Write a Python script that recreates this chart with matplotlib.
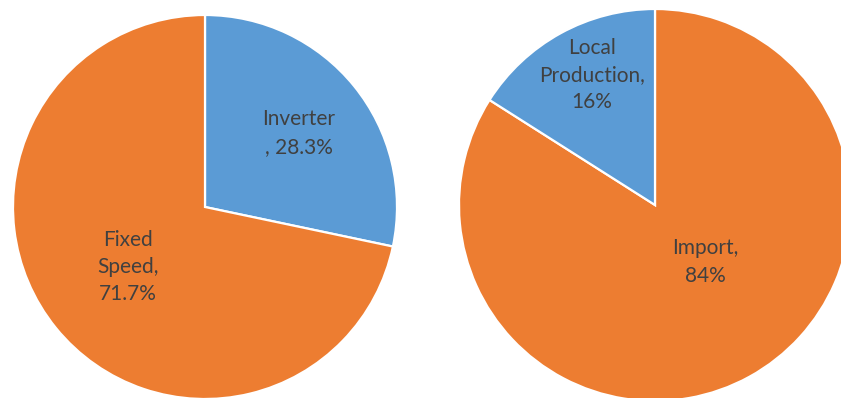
import matplotlib
matplotlib.use("Agg")
import matplotlib.pyplot as plt

# Air-conditioner market shares
type_labels = ["Inverter", "Fixed Speed"]
type_values = [28.3, 71.7]
type_texts = ["Inverter\n, 28.3%", "Fixed\nSpeed,\n71.7%"]

source_labels = ["Import", "Local Production"]
source_values = [84, 16]
source_texts = ["Import,\n84%", "Local\nProduction,\n16%"]

BLUE = "#5B9BD5"
ORANGE = "#ED7D31"
TEXT = "#404040"

W, H = 841, 398
fig = plt.figure(figsize=(W / 100, H / 100), dpi=100)
ax = fig.add_axes([0, 0, 1, 1])

wedge_style = dict(edgecolor="white", linewidth=1.6)

ax.pie(type_values, colors=[BLUE, ORANGE], startangle=90, counterclock=False,
       center=(205, H - 207), radius=192, wedgeprops=wedge_style, frame=True)
ax.pie(source_values, colors=[ORANGE, BLUE], startangle=90, counterclock=False,
       center=(655, H - 205), radius=196, wedgeprops=wedge_style, frame=True)

label_pos_left = [(299, 133), (128, 267)]
label_pos_right = [(705, 262), (592, 75)]
for txt, (x, y) in zip(type_texts + source_texts, label_pos_left + label_pos_right):
    ax.text(x, H - y, txt, ha="center", va="center", fontsize=15,
            family=["Lato", "DejaVu Sans"], color=TEXT, linespacing=1.45)

ax.set_xlim(0, W)
ax.set_ylim(0, H)
ax.set_aspect("equal")
ax.axis("off")

fig.savefig("out.png", dpi=100)
